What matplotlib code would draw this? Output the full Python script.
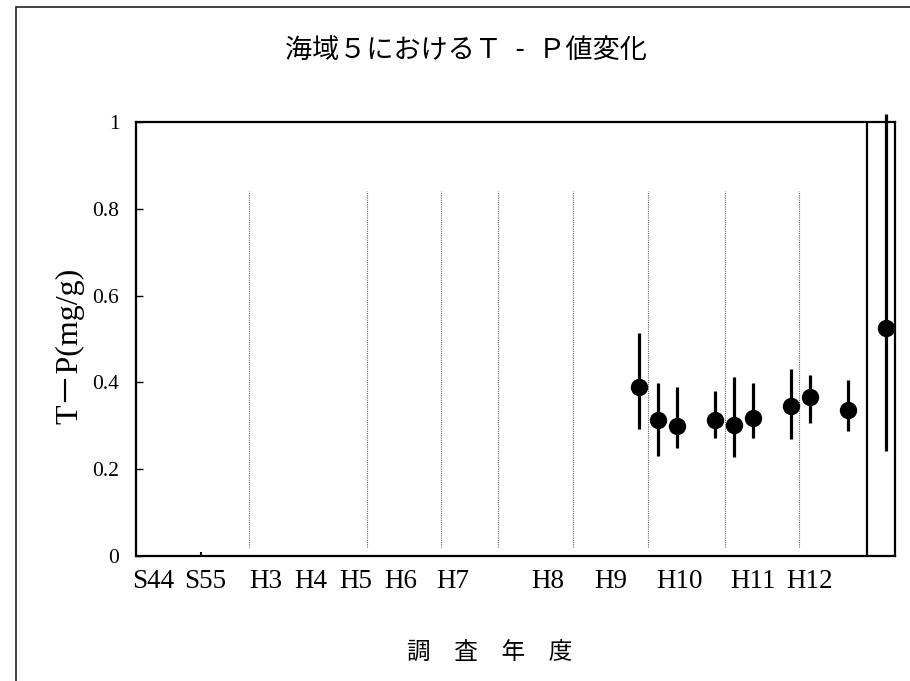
import matplotlib.pyplot as plt
from matplotlib.patches import Rectangle
from matplotlib.transforms import blended_transform_factory

# data (x is the column slot on the category axis, 40 slots)
x_pos = [26.5, 27.5, 28.5, 30.5, 31.5, 32.5, 34.5, 35.5, 37.5, 39.5]
tp_mean = [0.389, 0.313, 0.300, 0.314, 0.302, 0.317, 0.345, 0.366, 0.336, 0.525]
tp_max = [0.513, 0.399, 0.389, 0.380, 0.413, 0.399, 0.430, 0.416, 0.406, 1.018]
tp_min = [0.292, 0.231, 0.250, 0.272, 0.227, 0.272, 0.269, 0.307, 0.289, 0.242]

year_labels = ['S44', 'S55', 'H3', 'H4', 'H5', 'H6', 'H7', 'H8', 'H9', 'H10', 'H11', 'H12']
year_label_x = [0.9, 3.65, 6.85, 9.2, 11.57, 13.93, 16.72, 21.72, 25.0, 28.67, 32.53, 35.5]
divider_x = [5.95, 12.15, 16.1, 19.1, 23.05, 27.0, 31.05, 34.95]

fig = plt.figure(figsize=(9.1, 6.81), dpi=100)
ax = fig.add_axes([136 / 910, 1 - 556 / 681, 759 / 910, 434 / 681])

# frame around the whole chart area (right/bottom edges fall outside the image)
fig.patches.append(Rectangle((16 / 910, -0.05), 1.0, 1 - 7 / 681 + 0.05,
                             transform=fig.transFigure, fill=False,
                             edgecolor='#222222', linewidth=1.2))

for xv in divider_x:
    ax.vlines(xv, 0.02, 0.84, colors='#666666', linestyles=(0, (1, 1)), linewidth=0.8)
ax.axvline(38.5, color='black', linewidth=1.6)

yerr = [[m - lo for m, lo in zip(tp_mean, tp_min)],
        [hi - m for m, hi in zip(tp_mean, tp_max)]]
eb = ax.errorbar(x_pos, tp_mean, yerr=yerr, fmt='o', color='black', ms=11.5,
                 elinewidth=2.3, capsize=0, zorder=5)
for art in eb.lines[2]:
    art.set_clip_on(False)

ax.set_xlim(0, 40)
ax.set_ylim(0, 1)
ax.set_yticks([0, 0.2, 0.4, 0.6, 0.8, 1])
ax.set_yticklabels(['0', '0.2', '0.4', '0.6', '0.8', '1'],
                   fontfamily='Liberation Serif', fontsize=15.5)
ax.tick_params(axis='y', direction='in', length=5, width=1, pad=12)
ax.set_xticks([3.45])
ax.set_xticklabels([''])
ax.tick_params(axis='x', direction='in', length=3, width=1.5)
for sp in ax.spines.values():
    sp.set_linewidth(1.6)

trans = blended_transform_factory(ax.transData, ax.transAxes)
for lab, xv in zip(year_labels, year_label_x):
    ax.text(xv, -0.058, lab, transform=trans, ha='center', va='center',
            fontfamily='Liberation Serif', fontsize=19.5)

fig.text(70 / 910, 1 - 346 / 681, 'T－P(mg/g)', rotation=90,
         family=['Liberation Serif', 'Noto Sans CJK JP'], fontsize=23,
         ha='center', va='center')

fig.text(466 / 910, 1 - 50 / 681, '海域５におけるＴ\u2002-\u2002Ｐ値変化',
         family=['Noto Sans CJK JP', 'DejaVu Sans'], fontsize=19.5,
         ha='center', va='center')
fig.text(490 / 910, 1 - 652 / 681, '調　査　年　度',
         family=['Noto Sans CJK JP', 'DejaVu Sans'], fontsize=17,
         ha='center', va='center')

fig.savefig('out.png', dpi=100)
